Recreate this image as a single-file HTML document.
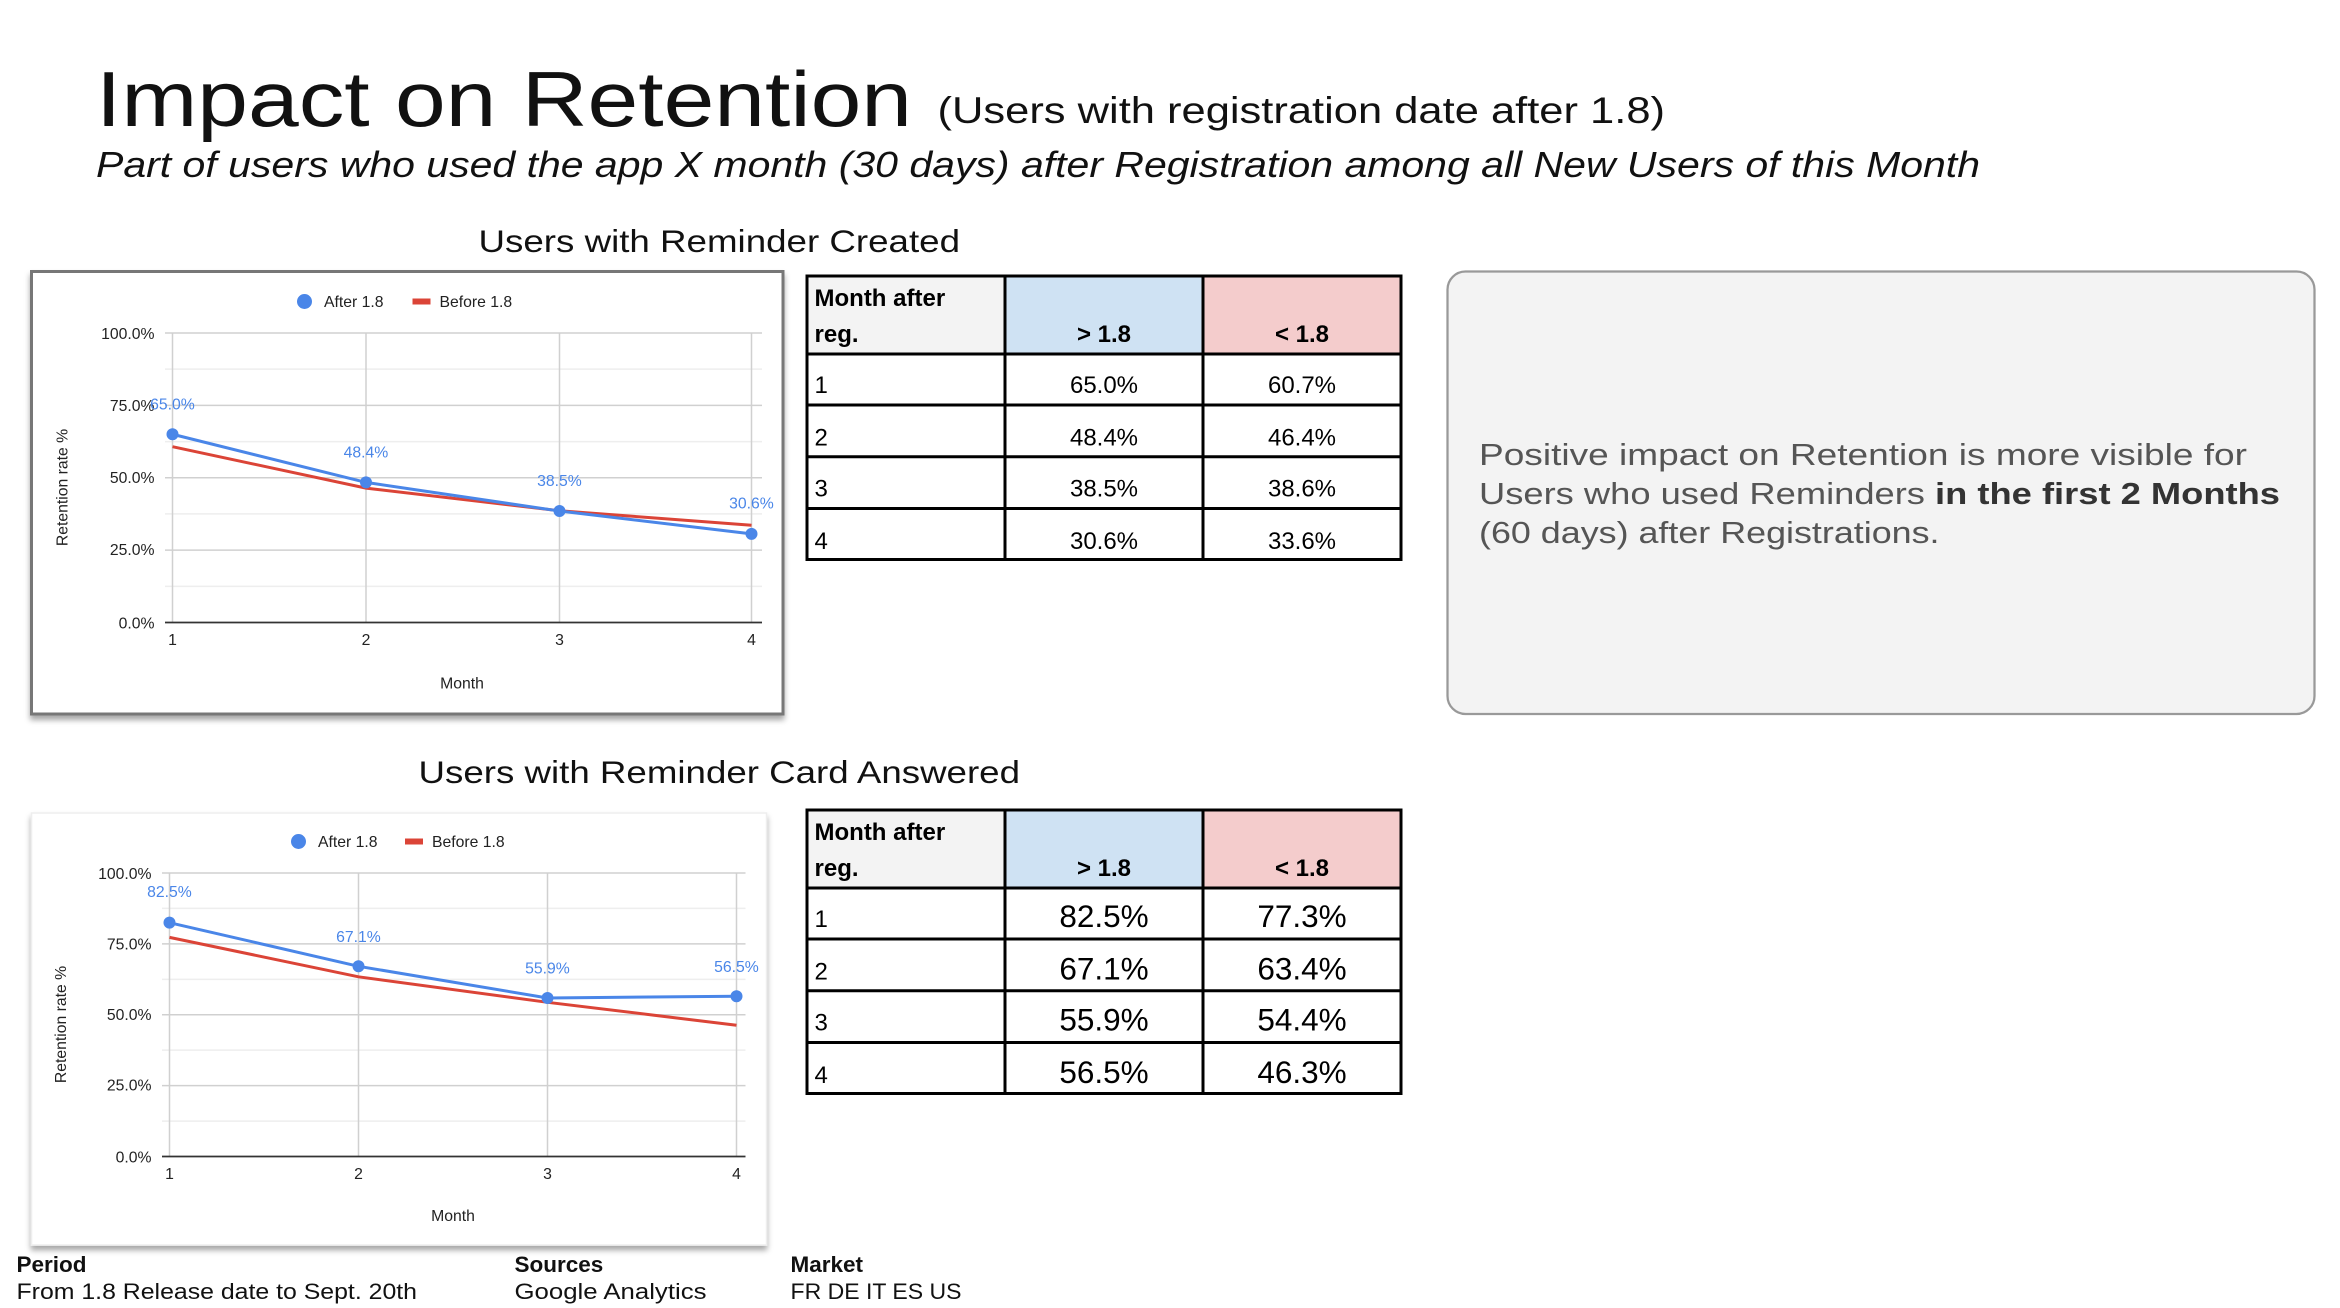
<!DOCTYPE html>
<html><head><meta charset="utf-8"><style>
html,body{margin:0;padding:0;background:#fff;}
svg{display:block;}
text{font-family:"Liberation Sans",sans-serif;}
</style></head><body>
<svg width="2340" height="1308" viewBox="0 0 1560 872" xmlns="http://www.w3.org/2000/svg">
<defs>
<filter id="sh" x="-5%" y="-5%" width="110%" height="115%"><feDropShadow dx="0" dy="3" stdDeviation="2" flood-color="#000" flood-opacity="0.35"/></filter>
</defs>
<rect width="1560" height="872" fill="#fff"/>
<!-- titles -->
<text x="64" y="84" font-size="52" fill="#111" textLength="544" lengthAdjust="spacingAndGlyphs">Impact on Retention</text>
<text x="625" y="82" font-size="25" fill="#111" textLength="485" lengthAdjust="spacingAndGlyphs">(Users with registration date after 1.8)</text>
<text x="64" y="118" font-size="24" font-style="italic" fill="#111" textLength="1256" lengthAdjust="spacingAndGlyphs">Part of users who used the app X month (30 days) after Registration among all New Users of this Month</text>
<text x="319" y="168" font-size="21" fill="#111" textLength="321" lengthAdjust="spacingAndGlyphs">Users with Reminder Created</text>
<text x="279" y="522" font-size="21" fill="#111" textLength="401" lengthAdjust="spacingAndGlyphs">Users with Reminder Card Answered</text>

<!-- chart 1 -->
<rect x="21" y="181" width="501" height="295" fill="#fff" stroke="#777" stroke-width="2" filter="url(#sh)"/>
<g stroke="#eee" stroke-width="1">
<line x1="110" x2="508" y1="390.9" y2="390.9"/><line x1="110" x2="508" y1="342.6" y2="342.6"/><line x1="110" x2="508" y1="294.4" y2="294.4"/><line x1="110" x2="508" y1="246.1" y2="246.1"/>
</g>
<g stroke="#d0d0d0" stroke-width="1">
<line x1="110" x2="508" y1="366.75" y2="366.75"/><line x1="110" x2="508" y1="318.5" y2="318.5"/><line x1="110" x2="508" y1="270.25" y2="270.25"/><line x1="110" x2="508" y1="222" y2="222"/>
<line x1="115" x2="115" y1="222" y2="415"/><line x1="244" x2="244" y1="222" y2="415"/><line x1="373" x2="373" y1="222" y2="415"/><line x1="501" x2="501" y1="222" y2="415"/>
</g>
<line x1="110" x2="508" y1="415" y2="415" stroke="#333" stroke-width="1.2"/>
<g font-size="10.5" fill="#222" text-anchor="end">
<text x="103" y="226">100.0%</text><text x="103" y="274">75.0%</text><text x="103" y="322">50.0%</text><text x="103" y="370">25.0%</text><text x="103" y="419">0.0%</text>
</g>
<g font-size="10.5" fill="#222" text-anchor="middle">
<text x="115" y="430">1</text><text x="244" y="430">2</text><text x="373" y="430">3</text><text x="501" y="430">4</text>
<text x="308" y="459">Month</text>
</g>
<text transform="translate(45,325) rotate(-90)" font-size="10.5" fill="#222" text-anchor="middle">Retention rate %</text>
<circle cx="203" cy="201" r="5" fill="#4a86e8"/><text x="216" y="204.5" font-size="10.5" fill="#222">After 1.8</text>
<rect x="275" y="199" width="12" height="4" fill="#db4437"/><text x="293" y="204.5" font-size="10.5" fill="#222">Before 1.8</text>
<polyline points="115,297.8 244,325.4 373,340.5 501,350.2" fill="none" stroke="#db4437" stroke-width="2"/>
<polyline points="115,289.5 244,321.6 373,340.7 501,355.9" fill="none" stroke="#4a86e8" stroke-width="2"/>
<g fill="#4a86e8"><circle cx="115" cy="289.5" r="4"/><circle cx="244" cy="321.6" r="4"/><circle cx="373" cy="340.7" r="4"/><circle cx="501" cy="355.9" r="4"/></g>
<g font-size="10.5" fill="#4a86e8" text-anchor="middle">
<text x="115" y="273">65.0%</text><text x="244" y="305">48.4%</text><text x="373" y="324">38.5%</text><text x="501" y="339">30.6%</text>
</g>

<!-- chart 2 -->
<rect x="21" y="542" width="490" height="288" fill="#fff" stroke="#eee" stroke-width="1" filter="url(#sh)"/>
<g stroke="#eee" stroke-width="1">
<line x1="108" x2="497" y1="747.4" y2="747.4"/><line x1="108" x2="497" y1="700.1" y2="700.1"/><line x1="108" x2="497" y1="652.9" y2="652.9"/><line x1="108" x2="497" y1="605.6" y2="605.6"/>
</g>
<g stroke="#d0d0d0" stroke-width="1">
<line x1="108" x2="497" y1="723.75" y2="723.75"/><line x1="108" x2="497" y1="676.5" y2="676.5"/><line x1="108" x2="497" y1="629.25" y2="629.25"/><line x1="108" x2="497" y1="582" y2="582"/>
<line x1="113" x2="113" y1="582" y2="771"/><line x1="239" x2="239" y1="582" y2="771"/><line x1="365" x2="365" y1="582" y2="771"/><line x1="491" x2="491" y1="582" y2="771"/>
</g>
<line x1="108" x2="497" y1="771" y2="771" stroke="#333" stroke-width="1.2"/>
<g font-size="10.5" fill="#222" text-anchor="end">
<text x="101" y="586">100.0%</text><text x="101" y="633">75.0%</text><text x="101" y="680">50.0%</text><text x="101" y="727">25.0%</text><text x="101" y="775">0.0%</text>
</g>
<g font-size="10.5" fill="#222" text-anchor="middle">
<text x="113" y="786">1</text><text x="239" y="786">2</text><text x="365" y="786">3</text><text x="491" y="786">4</text>
<text x="302" y="814">Month</text>
</g>
<text transform="translate(44,683) rotate(-90)" font-size="10.5" fill="#222" text-anchor="middle">Retention rate %</text>
<circle cx="199" cy="561" r="5" fill="#4a86e8"/><text x="212" y="564.5" font-size="10.5" fill="#222">After 1.8</text>
<rect x="270" y="559" width="12" height="4" fill="#db4437"/><text x="288" y="564.5" font-size="10.5" fill="#222">Before 1.8</text>
<polyline points="113,624.9 239,651.2 365,668.2 491,683.5" fill="none" stroke="#db4437" stroke-width="2"/>
<polyline points="113,615.1 239,644.2 365,665.3 491,664.2" fill="none" stroke="#4a86e8" stroke-width="2"/>
<g fill="#4a86e8"><circle cx="113" cy="615.1" r="4"/><circle cx="239" cy="644.2" r="4"/><circle cx="365" cy="665.3" r="4"/><circle cx="491" cy="664.2" r="4"/></g>
<g font-size="10.5" fill="#4a86e8" text-anchor="middle">
<text x="113" y="598">82.5%</text><text x="239" y="628">67.1%</text><text x="365" y="649">55.9%</text><text x="491" y="648">56.5%</text>
</g>

<!-- table 1 -->
<rect x="538" y="184" width="132" height="52" fill="#f3f3f3"/>
<rect x="670" y="184" width="132" height="52" fill="#cfe2f3"/>
<rect x="802" y="184" width="132" height="52" fill="#f4cccc"/>
<g stroke="#000" stroke-width="2" fill="none">
<rect x="538" y="184" width="396" height="189"/>
<line x1="670" x2="670" y1="184" y2="373"/><line x1="802" x2="802" y1="184" y2="373"/>
<line x1="538" x2="934" y1="236" y2="236"/><line x1="538" x2="934" y1="270" y2="270"/><line x1="538" x2="934" y1="304.5" y2="304.5"/><line x1="538" x2="934" y1="339" y2="339"/>
</g>
<g font-size="16" font-weight="bold" fill="#000">
<text x="543" y="204">Month after</text><text x="543" y="228">reg.</text>
<text x="736" y="228" text-anchor="middle">&gt; 1.8</text><text x="868" y="228" text-anchor="middle">&lt; 1.8</text>
</g>
<g font-size="16" fill="#000">
<text x="543" y="262">1</text><text x="543" y="297">2</text><text x="543" y="331">3</text><text x="543" y="366">4</text>
</g>
<g font-size="16" fill="#000" text-anchor="middle">
<text x="736" y="262">65.0%</text><text x="868" y="262">60.7%</text>
<text x="736" y="297">48.4%</text><text x="868" y="297">46.4%</text>
<text x="736" y="331">38.5%</text><text x="868" y="331">38.6%</text>
<text x="736" y="366">30.6%</text><text x="868" y="366">33.6%</text>
</g>

<!-- table 2 -->
<rect x="538" y="540" width="132" height="52" fill="#f3f3f3"/>
<rect x="670" y="540" width="132" height="52" fill="#cfe2f3"/>
<rect x="802" y="540" width="132" height="52" fill="#f4cccc"/>
<g stroke="#000" stroke-width="2" fill="none">
<rect x="538" y="540" width="396" height="189"/>
<line x1="670" x2="670" y1="540" y2="729"/><line x1="802" x2="802" y1="540" y2="729"/>
<line x1="538" x2="934" y1="592" y2="592"/><line x1="538" x2="934" y1="626" y2="626"/><line x1="538" x2="934" y1="660.5" y2="660.5"/><line x1="538" x2="934" y1="695" y2="695"/>
</g>
<g font-size="16" font-weight="bold" fill="#000">
<text x="543" y="560">Month after</text><text x="543" y="584">reg.</text>
<text x="736" y="584" text-anchor="middle">&gt; 1.8</text><text x="868" y="584" text-anchor="middle">&lt; 1.8</text>
</g>
<g font-size="16" fill="#000">
<text x="543" y="618">1</text><text x="543" y="653">2</text><text x="543" y="687">3</text><text x="543" y="722">4</text>
</g>
<g font-size="21" fill="#000" text-anchor="middle">
<text x="736" y="618">82.5%</text><text x="868" y="618">77.3%</text>
<text x="736" y="653">67.1%</text><text x="868" y="653">63.4%</text>
<text x="736" y="687">55.9%</text><text x="868" y="687">54.4%</text>
<text x="736" y="722">56.5%</text><text x="868" y="722">46.3%</text>
</g>

<!-- note box -->
<rect x="965" y="181" width="578" height="295" rx="12" fill="#f3f3f3" stroke="#999" stroke-width="1.5"/>
<g font-size="20.5" fill="#555">
<text x="986" y="310" textLength="512" lengthAdjust="spacingAndGlyphs">Positive impact on Retention is more visible for</text>
<text x="986" y="336" textLength="534" lengthAdjust="spacingAndGlyphs">Users who used Reminders <tspan font-weight="bold" fill="#333">in the first 2 Months</tspan></text>
<text x="986" y="362" textLength="307" lengthAdjust="spacingAndGlyphs">(60 days) after Registrations.</text>
</g>

<!-- footer -->
<g font-size="15" fill="#111">
<text x="11" y="848" font-weight="bold">Period</text><text x="11" y="866" textLength="267" lengthAdjust="spacingAndGlyphs">From 1.8 Release date to Sept. 20th</text>
<text x="343" y="848" font-weight="bold">Sources</text><text x="343" y="866" textLength="128" lengthAdjust="spacingAndGlyphs">Google Analytics</text>
<text x="527" y="848" font-weight="bold">Market</text><text x="527" y="866" textLength="114" lengthAdjust="spacingAndGlyphs">FR DE IT ES US</text>
</g>
</svg>
</body></html>
